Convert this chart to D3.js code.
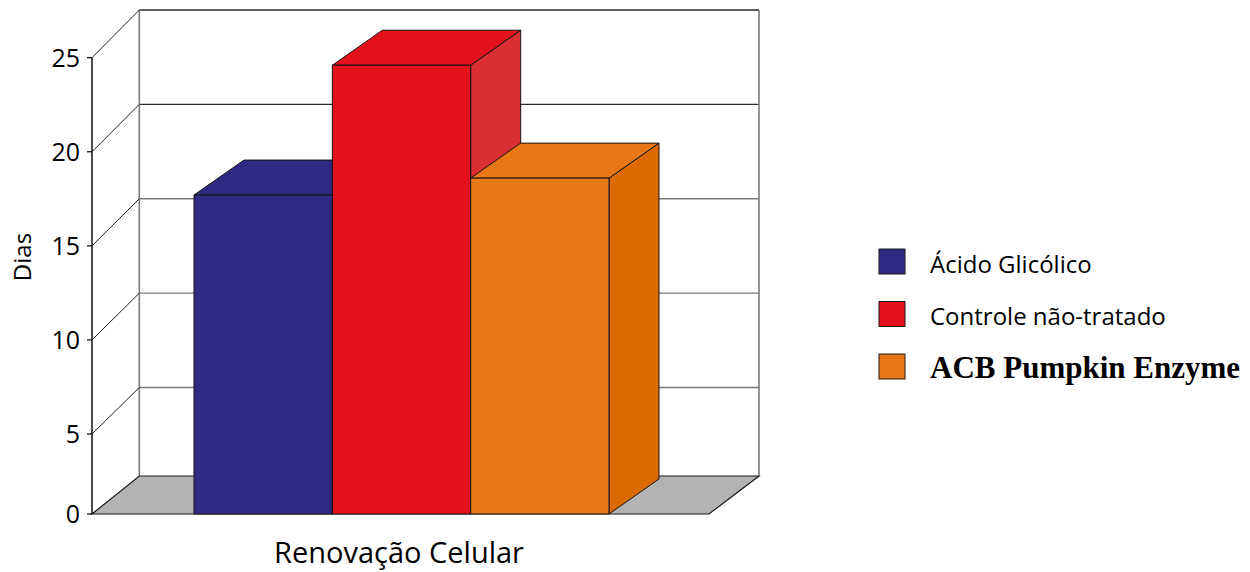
<!DOCTYPE html>
<html>
<head>
<meta charset="utf-8">
<script src="https://cdn.jsdelivr.net/npm/d3@7"></script>
<style>
  html, body { margin: 0; padding: 0; background: #fff; }
  svg { display: block; }
</style>
</head>
<body>
<svg id="chart" width="1250" height="572"></svg>
<script>
// Data
const categories = ["Ácido Glicólico", "Controle não-tratado", "ACB Pumpkin Enzyme"];
const values = [17.7, 24.6, 18.6];
const tickValues = [0, 5, 10, 15, 20, 25];
const yTitle = "Dias";
const xTitle = "Renovação Celular";

// Palette: front/top face, side face
const frontColors = ["#302a85", "#e3111b", "#e87715"];
const sideColors = ["#2a2478", "#dc2f33", "#dc6a00"];

const svg = d3.select("#chart");

// Front plane and back wall vertical scales
const yFront = d3.scaleLinear().domain([0, 5, 25]).range([514, 434, 57.7]);
const yBack = d3.scaleLinear().domain([0, 5, 25]).range([476, 387.5, 10]);
const x = d3.scaleBand().domain(categories).range([194, 609]).padding(0);

const axisX = 92;          // front vertical axis
const backLeft = 139.3;    // back wall left edge
const backRight = 759;     // back wall right edge
const floorFrontRight = 709;
const barDx = 50, barDy = -35;

// Back wall gridlines
svg.append("g").selectAll("line")
  .data(tickValues.filter(d => d > 0))
  .join("line")
  .attr("x1", backLeft).attr("x2", backRight)
  .attr("y1", d => yBack(d)).attr("y2", d => yBack(d))
  .attr("stroke", d => d >= 20 ? "#2a2a2a" : "#7a7a7a")
  .attr("stroke-width", 1.4);

// Back wall verticals
svg.append("line")
  .attr("x1", backLeft).attr("x2", backLeft)
  .attr("y1", yBack(25)).attr("y2", yBack(0))
  .attr("stroke", "#7a7a7a").attr("stroke-width", 1.6);
svg.append("line")
  .attr("x1", backRight).attr("x2", backRight)
  .attr("y1", yBack(25)).attr("y2", yBack(0))
  .attr("stroke", "#7a7a7a").attr("stroke-width", 1.6);

// Side wall diagonals
svg.append("g").selectAll("line")
  .data(tickValues.filter(d => d > 0))
  .join("line")
  .attr("x1", axisX).attr("y1", d => yFront(d))
  .attr("x2", backLeft).attr("y2", d => yBack(d))
  .attr("stroke", "#222").attr("stroke-width", 1);

// Floor
svg.append("polygon")
  .attr("points", [
    [axisX, yFront(0)], [floorFrontRight, yFront(0)],
    [backRight, yBack(0)], [backLeft, yBack(0)]
  ].map(p => p.join(",")).join(" "))
  .attr("fill", "#b3b3b3")
  .attr("stroke", "#1a1a1a").attr("stroke-width", 1.2);

// Front axis with ticks
svg.append("line")
  .attr("x1", axisX).attr("x2", axisX)
  .attr("y1", yFront(25)).attr("y2", yFront(0))
  .attr("stroke", "#000").attr("stroke-width", 1.4);
svg.append("g").selectAll("line")
  .data(tickValues)
  .join("line")
  .attr("x1", axisX - 5).attr("x2", axisX)
  .attr("y1", d => yFront(d)).attr("y2", d => yFront(d))
  .attr("stroke", "#000").attr("stroke-width", 1.2);
svg.append("g").selectAll("text")
  .data(tickValues)
  .join("text")
  .attr("x", 80).attr("y", d => yFront(d))
  .attr("dy", "0.36em")
  .attr("text-anchor", "end")
  .attr("font-family", "'Open Sans', sans-serif")
  .attr("font-size", 25)
  .attr("fill", "#000")
  .text(d => d);

// 3D bars, drawn left to right
const bars = svg.append("g");
categories.forEach((c, i) => {
  const x0 = x(c), x1 = x0 + x.bandwidth();
  const yt = yFront(values[i]), yb = yFront(0);
  const g = bars.append("g")
    .attr("stroke", "#141414").attr("stroke-width", 1).attr("stroke-linejoin", "round");
  g.append("polygon")
    .attr("points", [[x1, yt], [x1 + barDx, yt + barDy], [x1 + barDx, yb + barDy], [x1, yb]]
      .map(p => p.join(",")).join(" "))
    .attr("fill", sideColors[i]);
  g.append("polygon")
    .attr("points", [[x0, yt], [x1, yt], [x1 + barDx, yt + barDy], [x0 + barDx, yt + barDy]]
      .map(p => p.join(",")).join(" "))
    .attr("fill", frontColors[i]);
  g.append("rect")
    .attr("x", x0).attr("y", yt)
    .attr("width", x1 - x0).attr("height", yb - yt)
    .attr("fill", frontColors[i]);
});

// Axis titles
svg.append("text")
  .attr("transform", "translate(31,257) rotate(-90)")
  .attr("text-anchor", "middle")
  .attr("font-family", "'Open Sans', sans-serif")
  .attr("font-size", 24)
  .text(yTitle);

svg.append("text")
  .attr("x", 399).attr("y", 563)
  .attr("text-anchor", "middle")
  .attr("font-family", "'Open Sans', sans-serif")
  .attr("font-size", 29)
  .text(xTitle);

// Legend
const legendFonts = [
  { family: "'Open Sans', sans-serif", weight: "normal", size: 24 },
  { family: "'Open Sans', sans-serif", weight: "normal", size: 24 },
  { family: "'Liberation Serif', serif", weight: "bold", size: 31 }
];
const legend = svg.append("g");
categories.forEach((c, i) => {
  const y0 = 249 + i * 52.5;
  legend.append("rect")
    .attr("x", 879).attr("y", y0)
    .attr("width", 26).attr("height", 25)
    .attr("fill", frontColors[i])
    .attr("stroke", "#1a1a1a").attr("stroke-width", 1);
  legend.append("text")
    .attr("x", 930).attr("y", y0 + 23.5)
    .attr("font-family", legendFonts[i].family)
    .attr("font-weight", legendFonts[i].weight)
    .attr("font-size", legendFonts[i].size)
    .text(c);
});
</script>
</body>
</html>
